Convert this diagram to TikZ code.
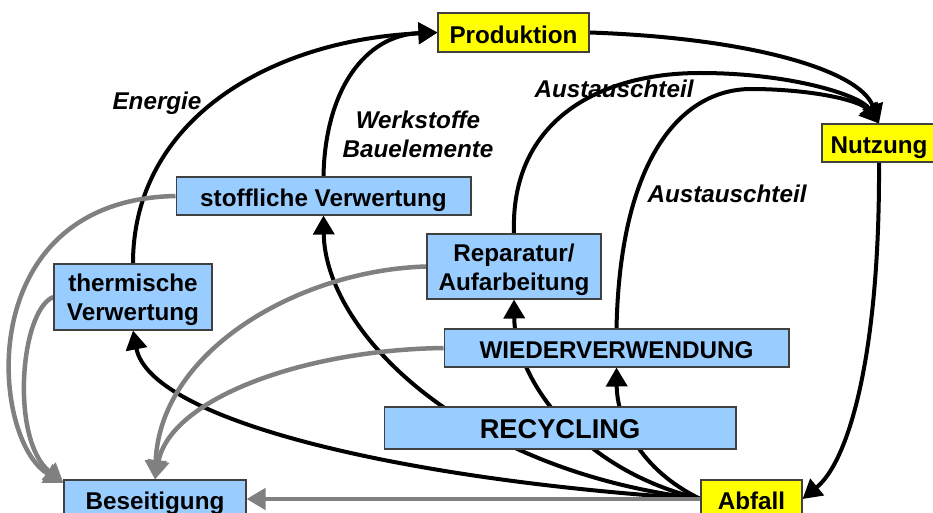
\documentclass[tikz,border=0pt]{standalone}
\usepackage{fontspec}
\setmainfont{Liberation Sans}
\usetikzlibrary{arrows.meta,backgrounds}

\begin{document}
\begin{tikzpicture}[x=0.02cm,y=-0.02cm,
    box/.style={shape=rectangle,draw=black!75,line width=0.6pt,inner sep=0pt,align=center,font=\fontsize{13.8}{16.5}\selectfont\bfseries},
    oneline/.style={text height=15.2pt,text depth=3pt},
    bluebox/.style={box,fill=kreis_blau},
    yellowbox/.style={box,oneline,fill=kreis_gelb},
    flow/.style={line width=0.08cm,-{Triangle[length=0.38cm,width=0.42cm]}},
    waste/.style={flow,draw=kreis_grau,line width=0.09cm},
    lbl/.style={font=\fontsize{13.8}{16.4}\selectfont\bfseries\itshape,align=center}]
    \definecolor{kreis_blau}{RGB}{153,204,255}
    \definecolor{kreis_gelb}{RGB}{255,255,0}
    \definecolor{kreis_grau}{RGB}{128,128,128}
    \path[use as bounding box,clip] (0,0) rectangle (933,513);
    \node[yellowbox,minimum width=3.02cm,minimum height=0.78cm] (produktion) at (513.5,32.5) {Produktion};
    \node[yellowbox,minimum width=2.28cm,minimum height=0.76cm] (nutzung) at (879,143) {Nutzung};
    \node[yellowbox,minimum width=2.02cm,minimum height=0.76cm] (abfall) at (751.5,499) {Abfall};
    \node[bluebox,oneline,minimum width=3.64cm,minimum height=0.76cm] (beseitigung) at (155,499) {Beseitigung};
    \node[bluebox,oneline,minimum width=5.9cm,minimum height=0.76cm] (stofflich) at (323.5,196) {stoffliche Verwertung};
    \node[bluebox,minimum width=3.16cm,minimum height=1.32cm] (thermisch) at (133,297) {\rule{0pt}{13.5pt}thermische\\Verwertung};
    \node[bluebox,minimum width=3.48cm,minimum height=1.3cm] (reparatur) at (514,266.5) {\rule{0pt}{13.5pt}Reparatur/\\Aufarbeitung};
    \node[bluebox,oneline,minimum width=6.9cm,minimum height=0.76cm] (wiederverw) at (616.5,348) {WIEDERVERWENDUNG};
    \node[bluebox,oneline,minimum width=7.04cm,minimum height=0.84cm,font=\fontsize{15.5}{18}\selectfont\bfseries] (recycling) at (560,428) {RECYCLING};
    \node[lbl] (energie) at (157,103) {Energie};
    \node[lbl] (werkstoffe) at (418,134.5) {Werkstoffe\\Bauelemente};
    \node[lbl] (austausch_a) at (614,89) {Austauschteil};
    \node[lbl] (austausch_b) at (727,194) {Austauschteil};
    \begin{scope}[on background layer]
    \draw[flow] (thermisch.north) .. controls (133,120) and (270,40) .. (produktion.west);
    \draw[flow] (stofflich.north) .. controls (325,90) and (365,35) .. (produktion.west);
    \draw[flow] (produktion.east) .. controls (750,38) and (860,70) .. (nutzung.north);
    \draw[flow] (reparatur.north) .. controls (510,120) and (600,73) .. (700,73) .. controls (790,73) and (860,95) .. (nutzung.north);
    \draw[flow] (wiederverw.north) .. controls (620,160) and (680,90) .. (750,89) .. controls (810,89) and (860,100) .. (nutzung.north);
    \draw[flow] (nutzung.south) .. controls (880,350) and (850,460) .. (abfall.east);
    \draw[flow] (abfall.west) .. controls (400,480) and (150,420) .. (thermisch.south);
    \draw[flow] (abfall.west) .. controls (460,470) and (325,330) .. (stofflich.south);
    \draw[flow] (abfall.west) .. controls (580,470) and (515,380) .. (reparatur.south);
    \draw[flow] (abfall.west) .. controls (640,470) and (617,420) .. (wiederverw.south);
    \draw[waste] (abfall.west) -- (beseitigung.east);
    \draw[waste] (stofflich.west) .. controls (-30,200) and (-10,440) .. (beseitigung.170);
    \draw[waste] (thermisch.west) .. controls (20,310) and (10,440) .. (beseitigung.170);
    \draw[waste] (reparatur.west) .. controls (300,270) and (160,350) .. (beseitigung.north);
    \draw[waste] (wiederverw.west) .. controls (300,350) and (170,400) .. (beseitigung.north);
    \end{scope}
\end{tikzpicture}
\end{document}
